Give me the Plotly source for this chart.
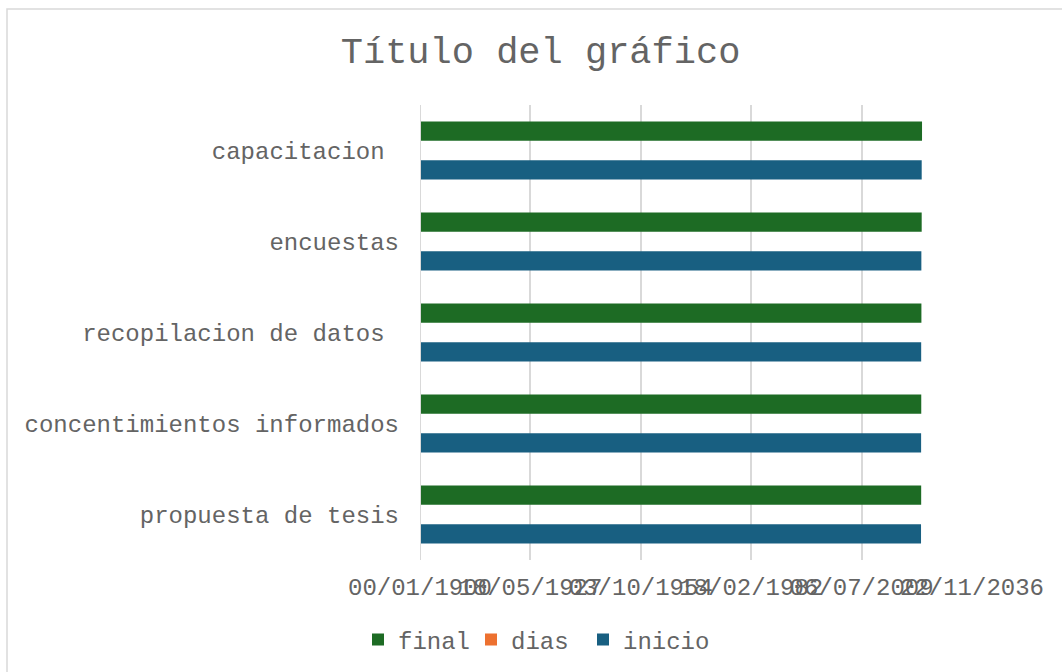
import plotly.graph_objects as go

categories = ["propuesta de tesis", "concentimientos informados",
              "recopilacion de datos\u00a0", "encuestas", "capacitacion\u00a0"]
inicio = [45383, 45390, 45397, 45413, 45444]
dias = [14, 14, 21, 30, 30]
final = [45397, 45404, 45418, 45443, 45474]

tick_vals = [0, 10000, 20000, 30000, 40000, 50000]
tick_text = ["00/01/1900", "18/05/1927", "03/10/1954", "18/02/1982", "06/07/2009", "22/11/2036"]

FONT = "Liberation Mono, Courier New, monospace"
GRAY = "#646464"

fig = go.Figure()
fig.add_trace(go.Bar(y=categories, x=inicio, name="inicio", orientation="h",
                     legend="legend3",
                     marker=dict(color="#185F81", line=dict(width=0))))
fig.add_trace(go.Bar(y=categories, x=dias, name="dias", orientation="h",
                     legend="legend2",
                     marker=dict(color="#ED7130", line=dict(width=0))))
fig.add_trace(go.Bar(y=categories, x=final, name="final", orientation="h",
                     legend="legend",
                     marker=dict(color="#1D6B24", line=dict(width=0))))

def leg(xpx):
    return dict(orientation="h", xref="container", yref="container",
                x=xpx / 1062, xanchor="left", y=1 - 640 / 672, yanchor="middle",
                font=dict(family=FONT, size=24, color=GRAY),
                itemwidth=30, bgcolor="rgba(0,0,0,0)")

fig.update_layout(
    width=1062, height=672,
    margin=dict(l=420, r=90, t=105, b=112, autoexpand=False),
    paper_bgcolor="white", plot_bgcolor="white",
    barmode="group", bargap=0.36, bargroupgap=0,
    font=dict(family=FONT, color=GRAY, size=24),
    title=dict(text="Título del gráfico", x=0.509, xanchor="center",
               y=1 - 50 / 672, yanchor="middle",
               font=dict(family=FONT, size=37, color=GRAY)),
    xaxis=dict(range=[0, 50000], tickvals=tick_vals, ticktext=tick_text,
               tickangle=0, automargin=False,
               showgrid=True, gridcolor="#D9D9D9", gridwidth=1.5,
               zeroline=False, showline=False, ticks="",
               ticklabelstandoff=10,
               tickfont=dict(family=FONT, size=24, color=GRAY)),
    yaxis=dict(showgrid=False, zeroline=False, showline=False, ticks="",
               automargin=False, ticklabelstandoff=20,
               tickfont=dict(family=FONT, size=24, color=GRAY)),
    legend=leg(358),
    legend2=leg(471),
    legend3=leg(583),
    showlegend=True,
)

fig.add_shape(type="line", xref="x", yref="paper", x0=0, x1=0, y0=0, y1=1,
              line=dict(color="#D9D9D9", width=2), layer="above")

fig.add_shape(type="rect", xref="paper", yref="paper",
              x0=(7 - 420) / 552, x1=2.0, y0=-1.0, y1=1 + (105 - 9) / 455,
              line=dict(color="#D9D9D9", width=1.5), fillcolor="rgba(0,0,0,0)",
              layer="below")

fig.write_html("out.html", config={"displayModeBar": False},
               post_script="document.body.style.margin='0';document.body.style.overflow='hidden';")
